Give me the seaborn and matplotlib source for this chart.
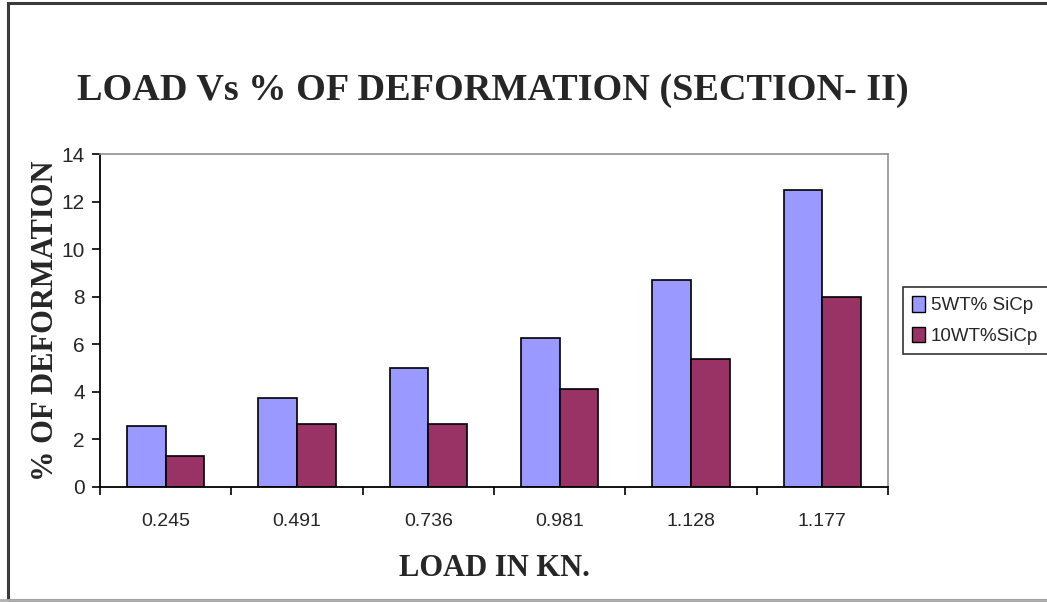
import matplotlib
matplotlib.use("Agg")
import matplotlib.pyplot as plt
import seaborn as sns
import pandas as pd
from matplotlib.patches import Rectangle

loads = ["0.245", "0.491", "0.736", "0.981", "1.128", "1.177"]
series_names = ["5WT% SiCp", "10WT%SiCp"]
wt5 = [2.55, 3.75, 5.0, 6.25, 8.7, 12.5]
wt10 = [1.3, 2.65, 2.65, 4.1, 5.4, 8.0]
colors = ["#9999FF", "#993366"]

df = pd.DataFrame({
    "load": loads * 2,
    "value": wt5 + wt10,
    "series": [series_names[0]] * len(loads) + [series_names[1]] * len(loads),
})

sns.set_theme(style="white")
plt.rcParams["font.family"] = ["Liberation Sans", "DejaVu Sans"]

fig = plt.figure(figsize=(10.47, 6.02), dpi=100)
fig.patch.set_facecolor("white")
ax = fig.add_axes([100 / 1047, 115 / 602, 788 / 1047, 333 / 602])

sns.barplot(data=df, x="load", y="value", hue="series", order=loads,
            hue_order=series_names, palette=colors, width=0.59, gap=0,
            edgecolor="black", linewidth=1.2, saturation=1, ax=ax)

ax.set_ylim(0, 14)
ax.set_xlim(-0.5, len(loads) - 0.5)
ax.set_yticks(range(0, 15, 2))
ax.tick_params(axis="y", which="major", direction="out", length=6, width=1.2,
               color="black", labelsize=15, pad=5, left=True)

# tick marks between groups, labels centred under each group
ax.set_xticks([i - 0.5 for i in range(len(loads) + 1)])
ax.set_xticklabels([])
ax.set_xticks(range(len(loads)), minor=True)
ax.set_xticklabels(loads, minor=True)
ax.tick_params(axis="x", which="major", direction="out", length=6, width=1.2,
               color="black", bottom=True)
ax.tick_params(axis="x", which="minor", length=0, labelsize=14, pad=19)

for side in ["left", "bottom"]:
    ax.spines[side].set_color("black")
    ax.spines[side].set_linewidth(1.3)
for side in ["top", "right"]:
    ax.spines[side].set_color("#909090")
    ax.spines[side].set_linewidth(1.2)

ax.set_xlabel("LOAD IN KN.", fontsize=22, family=["Liberation Serif"],
              fontweight="bold", labelpad=17)
ax.set_ylabel("% OF DEFORMATION", fontsize=22, family=["Liberation Serif"],
              fontweight="bold", labelpad=1)

fig.text(77 / 1047, 1 - 91 / 602, "LOAD Vs % OF DEFORMATION (SECTION- II)",
         fontsize=27.5, family=["Liberation Serif"], fontweight="bold",
         ha="left", va="center")

leg = ax.legend(loc="center left", bbox_to_anchor=(1.019, 0.5), frameon=True,
                fontsize=13.5, handlelength=0.7, handleheight=0.9,
                handletextpad=0.3, borderpad=0.5, labelspacing=0.65,
                borderaxespad=0, fancybox=False)
leg.get_frame().set_edgecolor("black")
leg.get_frame().set_linewidth(1.2)
for h in leg.legend_handles:
    h.set_edgecolor("black")
    h.set_linewidth(1.0)

# chart border
fig.add_artist(Rectangle((8 / 1047, 2 / 602), 1.2, 1 - 5 / 602,
                         transform=fig.transFigure, fill=False,
                         edgecolor="#3a3a3a", linewidth=2.2))
fig.add_artist(plt.Line2D([0, 1], [2 / 602, 2 / 602], transform=fig.transFigure,
                          color="#b0b0b0", linewidth=2))

fig.savefig("out.png", dpi=100)
